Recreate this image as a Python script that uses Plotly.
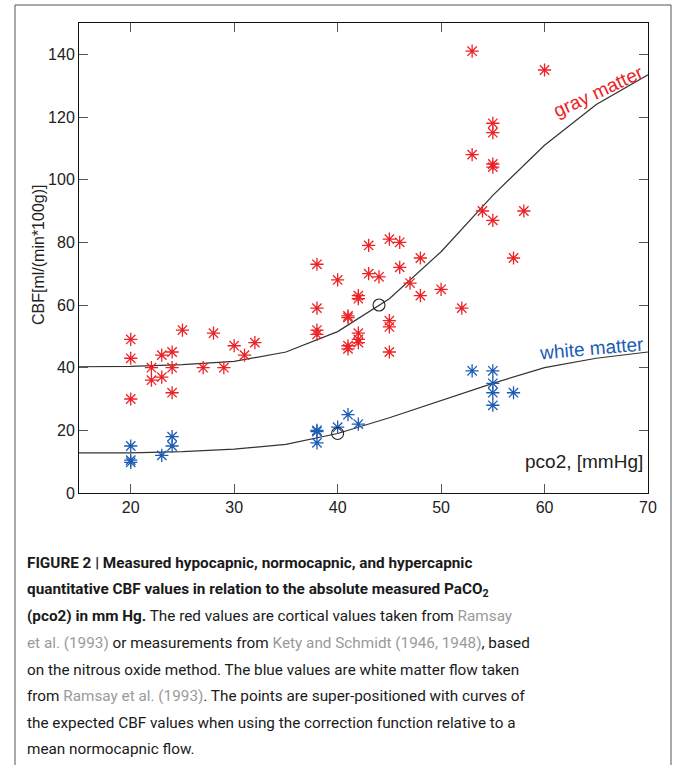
import plotly.graph_objects as go

# ---- data ----
gray_x = [20, 20, 20, 22, 22, 23, 23, 24, 24, 24, 25, 27, 28, 29, 30, 31, 32,
          38, 38, 38, 38, 40, 41, 41, 41, 41, 42, 42, 42, 42, 42, 43, 43, 44,
          45, 45, 45, 45, 46, 46, 47, 48, 48, 50, 52, 53, 53, 54, 55, 55, 55,
          55, 55, 57, 58, 60]
gray_y = [49, 43, 30, 40, 36, 44, 37, 45, 40, 32, 52, 40, 51, 40, 47, 44, 48,
          73, 59, 52, 50.6, 68, 56.5, 56, 47, 46, 63, 62, 51, 49, 48, 79, 70, 69,
          81, 55, 53, 45, 80, 72, 67, 75, 63, 65, 59, 141, 108, 90, 118, 115, 105,
          104, 87, 75, 90, 135]

white_x = [20, 20, 20, 23, 24, 24, 38, 38, 38, 40, 41, 42, 53, 55, 55, 55, 55, 57]
white_y = [15, 10.5, 9.8, 12, 18, 15, 20, 19.6, 16, 21, 25, 22, 39, 39, 35, 32, 28, 32]

curve_x = [15, 20, 25, 30, 35, 40, 45, 50, 55, 60, 65, 70]
gray_curve = [40.3, 40.4, 41, 42, 45, 51.5, 62, 77, 95, 111, 124, 133.5]
white_curve = [12.8, 12.8, 13.2, 14, 15.5, 19, 24, 29.5, 35, 40, 43, 45]

ref_x = [44, 40]
ref_y = [60, 19]

x_ticks = [20, 30, 40, 50, 60, 70]
y_ticks = [0, 20, 40, 60, 80, 100, 120, 140]

RED = "#ec2227"
BLUE = "#1d5cb4"
FONT = "Liberation Sans, Arial, Helvetica, sans-serif"
CAP_FONT = "Roboto, Arial, sans-serif"
LINK = "#9a9a9a"

fig = go.Figure()
fig.add_trace(go.Scatter(x=curve_x, y=gray_curve, mode="lines",
                         line=dict(color="#333333", width=1.2), hoverinfo="skip"))
fig.add_trace(go.Scatter(x=curve_x, y=white_curve, mode="lines",
                         line=dict(color="#333333", width=1.2), hoverinfo="skip"))
fig.add_trace(go.Scatter(x=gray_x, y=gray_y, mode="markers",
                         marker=dict(symbol="asterisk-open", size=11,
                                     line=dict(color=RED, width=1.3), color=RED)))
fig.add_trace(go.Scatter(x=white_x, y=white_y, mode="markers",
                         marker=dict(symbol="asterisk-open", size=11,
                                     line=dict(color=BLUE, width=1.3), color=BLUE)))
fig.add_trace(go.Scatter(x=ref_x, y=ref_y, mode="markers",
                         marker=dict(symbol="circle-open", size=12,
                                     line=dict(color="#222222", width=1.1),
                                     color="#222222")))

L, R, T, B = 79, 25, 23, 272
W, H = 673, 765
pw = W - L - R
ph = H - T - B


def px_x(p):
    return (p - L) / pw


def px_y(p):
    return (H - B - p) / ph


fig.update_layout(
    width=W, height=H,
    margin=dict(l=L, r=R, t=T, b=B),
    paper_bgcolor="white", plot_bgcolor="white",
    showlegend=False,
    font=dict(family=FONT, size=16, color="#222222"),
    xaxis=dict(range=[15, 70], tickvals=x_ticks, ticks="inside", ticklen=9,
               tickcolor="#555555", showline=True, linecolor="#111111",
               linewidth=1, mirror="allticks", showgrid=False, zeroline=False,
               tickfont=dict(size=16, color="#222222")),
    yaxis=dict(range=[0, 150], tickvals=y_ticks, ticks="inside", ticklen=9,
               tickcolor="#555555", showline=True, linecolor="#111111",
               linewidth=1, mirror="allticks", showgrid=False, zeroline=False,
               tickfont=dict(size=16, color="#222222")),
)

# y-axis title
fig.add_annotation(xref="paper", yref="paper", x=px_x(38), y=px_y(255),
                   text="CBF[ml/(min*100g)]", showarrow=False, textangle=-90,
                   xanchor="center", yanchor="middle",
                   font=dict(size=16, color="#222222", family=FONT))

# in-plot labels
fig.add_annotation(x=65.2, y=128.2, text="gray matter", showarrow=False,
                   textangle=-25, font=dict(size=19, color=RED, family=FONT))
fig.add_annotation(x=64.5, y=46.2, text="white matter", showarrow=False,
                   textangle=-5, font=dict(size=19, color=BLUE, family=FONT))
fig.add_annotation(x=69.7, y=9.9, text="pco2, [mmHg]", showarrow=False,
                   xanchor="right", font=dict(size=19, color="#222222", family=FONT))

# outer frame
fig.add_shape(type="rect", xref="paper", yref="paper",
              x0=px_x(15), x1=px_x(671), y0=px_y(780), y1=px_y(5),
              line=dict(color="#555555", width=1), layer="above")

# caption
g = lambda s: f"<span style='color:{LINK}'>{s}</span>"
caption = [
    "<b>FIGURE 2 | Measured hypocapnic, normocapnic, and hypercapnic</b>",
    "<b>quantitative CBF values in relation to the absolute measured PaCO<sub>2</sub></b>",
    "<b>(pco2) in mm Hg.</b> The red values are cortical values taken from " + g("Ramsay"),
    g("et al. (1993)") + " or measurements from " + g("Kety and Schmidt (1946, 1948)") + ", based",
    "on the nitrous oxide method. The blue values are white matter flow taken",
    "from " + g("Ramsay et al. (1993)") + ". The points are super-positioned with curves of",
    "the expected CBF values when using the correction function relative to a",
    "mean normocapnic flow.",
]
line_y = [563, 590, 616, 643, 670, 696, 723, 749]
for txt, yy in zip(caption, line_y):
    fig.add_annotation(xref="paper", yref="paper", x=px_x(25), y=px_y(yy),
                       xanchor="left", yanchor="middle", showarrow=False,
                       text=txt, align="left",
                       font=dict(size=15.3, color="#1a1a1a", family=CAP_FONT))

fig.write_html("out.html")
